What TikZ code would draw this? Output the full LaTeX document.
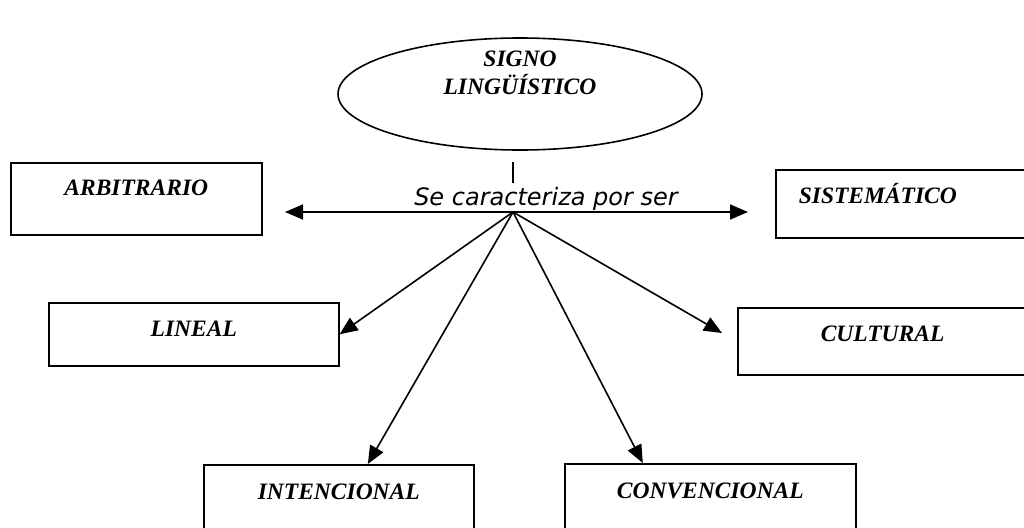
\documentclass[tikz,border=0pt]{standalone}
\usepackage{fontspec}
\setmainfont{Liberation Serif}
\newfontfamily\verdana{DejaVu Sans}
\usetikzlibrary{arrows.meta,shapes.geometric}
\tikzset{
  caja/.style={draw, line width=1.6pt, inner sep=0pt, anchor=north west,
    font=\fontsize{23.5}{28}\selectfont\bfseries\itshape},
  flecha/.style={line width=1.6pt, -{Triangle[length=18pt,width=15pt]}}
}
\begin{document}
\begin{tikzpicture}[x=1pt,y=-1pt]
\useasboundingbox (0,0) rectangle (1024,527);
\clip (0,0) rectangle (1024,527);
\node[draw, ellipse, line width=1.6pt, inner sep=0pt, minimum width=364pt, minimum height=112pt] (signo) at (520,94) {};
\node[font=\fontsize{23.5}{28}\selectfont\bfseries\itshape, align=center] (signot) at (520,73) {SIGNO\\LINGÜÍSTICO};
\node[caja, minimum width=251pt, text height=33pt, text depth=39pt] (arbitrario) at (10,162) {ARBITRARIO};
\node[caja, minimum width=290pt, text height=34pt, text depth=29pt] (lineal) at (48,302) {LINEAL};
\node[caja, inner xsep=23pt, text width=250pt, align=left, text height=34pt, text depth=34pt] (sistematico) at (775,169) {SISTEMÁTICO};
\node[caja, inner xsep=83pt, text width=150pt, align=left, text height=34pt, text depth=33pt] (cultural) at (737,307) {CULTURAL};
\node[caja, minimum width=270pt, text height=35pt, text depth=80pt] (intencional) at (203,464) {INTENCIONAL};
\node[caja, minimum width=291pt, text height=35pt, text depth=80pt] (convencional) at (564,463) {CONVENCIONAL};
\node[font=\verdana\itshape\fontsize{24}{28}\selectfont, anchor=base] (rasgo) at (546,205) {Se caracteriza por ser};
\coordinate (c) at (513,212);
\coordinate (izq) at (285,212);
\coordinate (der) at (748,212);
\coordinate (cul) at (722,333);
\draw[line width=1.6pt] (c) ++(0,-50) -- ++(0,21);
\draw[flecha] (c) -- (izq);
\draw[flecha] (c) -- (der);
\draw[flecha] (c) -- (lineal.east);
\draw[flecha] (c) -- ([xshift=29pt]intencional.north);
\draw[flecha] (c) -- ([xshift=-67.5pt]convencional.north);
\draw[flecha] (c) -- (cul);
\end{tikzpicture}
\end{document}
